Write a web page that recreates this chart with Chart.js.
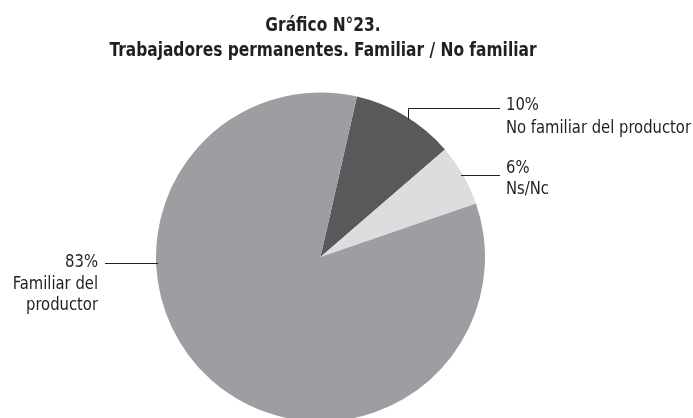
<!DOCTYPE html>
<html>
<head>
<meta charset="utf-8">
<script src="https://cdn.jsdelivr.net/npm/chart.js@4"></script>
<style>
  html, body { margin: 0; padding: 0; background: #ffffff; overflow: hidden; }
  #wrap { position: relative; width: 693px; height: 430px; }
</style>
</head>
<body>
<div id="wrap"><canvas id="c"></canvas></div>
<script>
// ---- data ----
const titleLines = ['Gráfico N°23.', 'Trabajadores permanentes. Familiar / No familiar'];
const categories = ['No familiar del productor', 'Ns/Nc', 'Familiar del productor'];
const labelLines = [['No familiar del productor'], ['Ns/Nc'], ['Familiar del', 'productor']];
const values = [10, 6, 83];
const sliceColors = ['#58595b', '#dcdddf', '#9d9ea1'];

const FONT_FAMILY = '"Liberation Sans Narrow", "DejaVu Sans Condensed", "Arial Narrow", sans-serif';
const TEXT_COLOR = '#231f20';

// draw text compressed horizontally by factor sx (keeps it real text)
function narrowText(ctx, text, x, y, sx, align) {
  const w = ctx.measureText(text).width * sx;
  let left = x;
  if (align === 'center') left = x - w / 2;
  else if (align === 'right') left = x - w;
  ctx.save();
  ctx.textAlign = 'left';
  ctx.translate(left, y);
  ctx.scale(sx, 1);
  ctx.fillText(text, 0, 0);
  ctx.restore();
}

const annotatePlugin = {
  id: 'annotate',
  afterDraw(chart) {
    const ctx = chart.ctx;
    ctx.save();
    ctx.fillStyle = TEXT_COLOR;
    ctx.textBaseline = 'alphabetic';

    // Title
    ctx.font = 'bold 20px ' + FONT_FAMILY;
    const tsx = Math.min(1, 427 / ctx.measureText(titleLines[1]).width);
    narrowText(ctx, titleLines[0], 323, 31, tsx, 'center');
    narrowText(ctx, titleLines[1], 323, 55.5, tsx, 'center');

    const meta = chart.getDatasetMeta(0);
    ctx.strokeStyle = '#231f20';
    ctx.lineWidth = 1;
    ctx.font = '18px ' + FONT_FAMILY;
    const lsx = Math.min(1, 185 / ctx.measureText(labelLines[0][0]).width);

    // slice 0 : elbow leader
    {
      const a = meta.data[0].getProps(['x', 'y', 'startAngle', 'endAngle', 'outerRadius'], true);
      const mid = (a.startAngle + a.endAngle) / 2 + 0.02;
      const px = a.x + a.outerRadius * Math.cos(mid);
      const py = a.y + a.outerRadius * Math.sin(mid);
      const ly = 108;
      ctx.beginPath();
      ctx.moveTo(Math.round(px) + 0.5, py + 2);
      ctx.lineTo(Math.round(px) + 0.5, ly + 0.5);
      ctx.lineTo(500, ly + 0.5);
      ctx.stroke();
      narrowText(ctx, values[0] + '%', 506, 110, lsx, 'left');
      labelLines[0].forEach((t, i) => narrowText(ctx, t, 506, 132.5 + i * 21.5, lsx, 'left'));
    }
    // slice 1 : straight leader
    {
      const a = meta.data[1].getProps(['x', 'y', 'startAngle', 'endAngle', 'outerRadius'], true);
      const mid = (a.startAngle + a.endAngle) / 2;
      const px = a.x + a.outerRadius * Math.cos(mid);
      const py = a.y + a.outerRadius * Math.sin(mid);
      ctx.beginPath();
      ctx.moveTo(px - 2, Math.round(py) + 0.5);
      ctx.lineTo(500, Math.round(py) + 0.5);
      ctx.stroke();
      narrowText(ctx, values[1] + '%', 506, 172.5, lsx, 'left');
      labelLines[1].forEach((t, i) => narrowText(ctx, t, 506, 194 + i * 21.5, lsx, 'left'));
    }
    // slice 2 : leader from left edge
    {
      const a = meta.data[2].getProps(['x', 'y', 'outerRadius'], true);
      const dy = 6;
      const px = a.x - Math.sqrt(a.outerRadius * a.outerRadius - dy * dy);
      const py = a.y + dy;
      ctx.beginPath();
      ctx.moveTo(px + 2, Math.round(py) + 0.5);
      ctx.lineTo(105, Math.round(py) + 0.5);
      ctx.stroke();
      narrowText(ctx, values[2] + '%', 98, 267, lsx, 'right');
      labelLines[2].forEach((t, i) => narrowText(ctx, t, 98, 288.5 + i * 21.5, lsx, 'right'));
    }
    ctx.restore();
  }
};

new Chart(document.getElementById('c'), {
  type: 'pie',
  data: {
    labels: categories,
    datasets: [{
      data: values,
      backgroundColor: sliceColors,
      borderWidth: 0
    }]
  },
  options: {
    responsive: true,
    maintainAspectRatio: false,
    animation: false,
    rotation: 12.8,
    layout: { padding: { left: 156, right: 208, top: 92.5, bottom: 8.5 } },
    plugins: {
      legend: { display: false },
      tooltip: { enabled: false },
      title: { display: false }
    }
  },
  plugins: [annotatePlugin]
});
</script>
</body>
</html>
